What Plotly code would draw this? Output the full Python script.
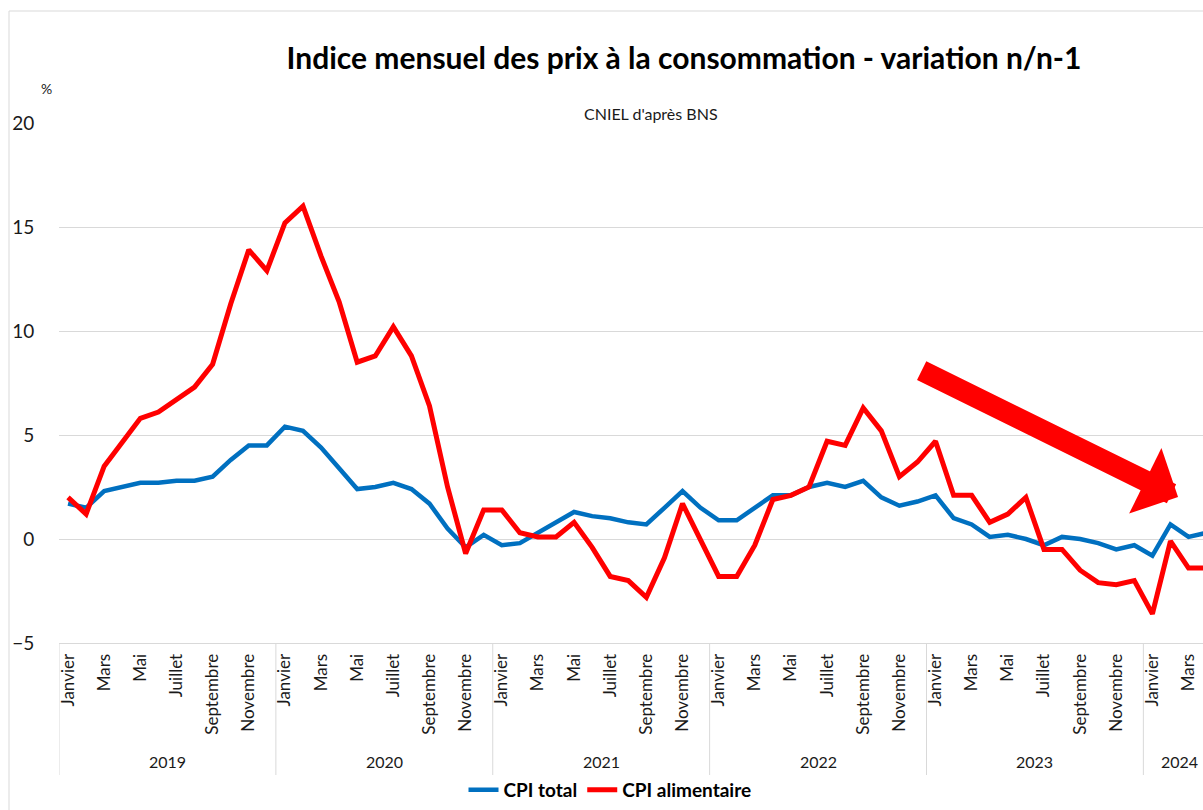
import plotly.graph_objects as go

# ---- data ----
month_names = ["Janvier", "Février", "Mars", "Avril", "Mai", "Juin",
               "Juillet", "Août", "Septembre", "Octobre", "Novembre", "Décembre"]
years = [2019, 2020, 2021, 2022, 2023, 2024]
n_months_2024 = 4

cpi_total = [1.7, 1.5, 2.3, 2.5, 2.7, 2.7, 2.8, 2.8, 3.0, 3.8, 4.5, 4.5,
             5.4, 5.2, 4.4, 3.4, 2.4, 2.5, 2.7, 2.4, 1.7, 0.5, -0.4, 0.2,
             -0.3, -0.2, 0.3, 0.8, 1.3, 1.1, 1.0, 0.8, 0.7, 1.5, 2.3, 1.5,
             0.9, 0.9, 1.5, 2.1, 2.1, 2.5, 2.7, 2.5, 2.8, 2.0, 1.6, 1.8,
             2.1, 1.0, 0.7, 0.1, 0.2, 0.0, -0.3, 0.1, 0.0, -0.2, -0.5, -0.3,
             -0.8, 0.7, 0.1, 0.3]

cpi_alimentaire = [2.0, 1.2, 3.5, 4.7, 5.8, 6.1, 6.7, 7.3, 8.4, 11.3, 13.9, 12.9,
                   15.2, 16.0, 13.6, 11.4, 8.5, 8.8, 10.2, 8.8, 6.4, 2.5, -0.7, 1.4,
                   1.4, 0.3, 0.1, 0.1, 0.8, -0.4, -1.8, -2.0, -2.8, -0.9, 1.7, -0.1,
                   -1.8, -1.8, -0.3, 1.9, 2.1, 2.5, 4.7, 4.5, 6.3, 5.2, 3.0, 3.7,
                   4.7, 2.1, 2.1, 0.8, 1.2, 2.0, -0.5, -0.5, -1.5, -2.1, -2.2, -2.0,
                   -3.6, -0.1, -1.4, -1.4]

y_ticks = [-5, 0, 5, 10, 15, 20]

# ---- derived ----
year_of = []
month_of = []
for y in years:
    count = 12 if y != 2024 else n_months_2024
    for m in range(count):
        year_of.append(y)
        month_of.append(m)
x_idx = list(range(len(cpi_total)))

tickvals = [i for i in x_idx if month_of[i] % 2 == 0]
ticktext = [month_names[month_of[i]] for i in tickvals]

X_MAX = 62.8
FONT = "Lato"
TXT = "#1a1a1a"
W, H = 1203, 810
L, T, B = 59, 123, 167
PW, PH = W - L, H - T - B

fig = go.Figure()
fig.add_trace(go.Scatter(x=x_idx, y=cpi_total, mode="lines", name="<b>CPI total</b>",
                         line=dict(color="#0070C0", width=4.5)))
fig.add_trace(go.Scatter(x=x_idx, y=cpi_alimentaire, mode="lines", name="<b>CPI alimentaire</b>",
                         line=dict(color="#FF0000", width=5)))

fig.update_layout(
    width=W, height=H,
    margin=dict(l=L, r=0, t=T, b=B, pad=0),
    paper_bgcolor="white", plot_bgcolor="white",
    font=dict(family=FONT, color=TXT),
    title=dict(text="<b>Indice mensuel des prix à la consommation - variation n/n-1</b>",
               x=684 / W, xanchor="center", y=1 - 58 / H, yanchor="middle",
               font=dict(size=30, color="black", family=FONT)),
    showlegend=True,
    legend=dict(orientation="h", x=(610 - L) / PW, xanchor="center",
                y=-(790 - (H - B)) / PH, yanchor="middle",
                font=dict(size=19, color="black", family=FONT),
                itemwidth=30, tracegroupgap=0, bgcolor="rgba(0,0,0,0)"),
)

fig.update_xaxes(range=[-0.5, X_MAX], tickmode="array", tickvals=tickvals, ticktext=ticktext,
                 tickangle=-90, tickfont=dict(size=17, color=TXT), showgrid=False,
                 zeroline=False, showline=True, linecolor="#D9D9D9", linewidth=1,
                 ticks="outside", ticklen=3, tickcolor="rgba(0,0,0,0)", fixedrange=True)
fig.update_yaxes(range=[-5, 20], tickmode="array", tickvals=y_ticks,
                 tickfont=dict(size=19, color=TXT), showgrid=True, gridcolor="#D9D9D9",
                 gridwidth=1, zeroline=False, showline=False,
                 ticks="outside", ticklen=20, tickcolor="rgba(0,0,0,0)")

# year separators and labels
sep_bottom = -(775 - (H - B)) / PH
for k, y in enumerate(years):
    start = k * 12 - 0.5
    fig.add_shape(type="line", xref="x", yref="paper", x0=start, x1=start, y0=0, y1=sep_bottom,
                  line=dict(color="#D9D9D9", width=1))
    members = [i for i in x_idx if year_of[i] == y]
    center = (members[0] + members[-1]) / 2
    fig.add_annotation(x=center, y=-(761 - (H - B)) / PH, xref="x", yref="paper", text=str(y),
                       showarrow=False, font=dict(size=16, color=TXT), yanchor="middle")

# chart border
fig.add_shape(type="rect", xref="paper", yref="paper",
              x0=(9 - L) / PW, x1=1.02, y0=-0.4, y1=1 + (T - 11) / PH,
              line=dict(color="#D9D9D9", width=1), fillcolor="rgba(0,0,0,0)", layer="below")

# % unit and subtitle
fig.add_annotation(x=(46 - L) / PW, y=1 + (T - 88) / PH, xref="paper", yref="paper",
                   text="%", showarrow=False, font=dict(size=14, color=TXT),
                   xanchor="center", yanchor="middle")
fig.add_annotation(x=(651 - L) / PW, y=1 + (T - 113) / PH, xref="paper", yref="paper",
                   text="CNIEL d'après BNS", showarrow=False, font=dict(size=16, color=TXT),
                   xanchor="center", yanchor="middle")

# big red trend arrow
fig.add_annotation(x=61.42, y=2.02, ax=47.15, ay=8.13, xref="x", yref="y", axref="x", ayref="y",
                   text="", showarrow=True, arrowhead=1, arrowsize=0.58, arrowwidth=21,
                   arrowcolor="#FF0000", standoff=0)

fig.write_html("out.html", config={"displayModeBar": False, "staticPlot": True},
               post_script="document.body.style.margin='0';document.body.style.overflow='hidden';")
